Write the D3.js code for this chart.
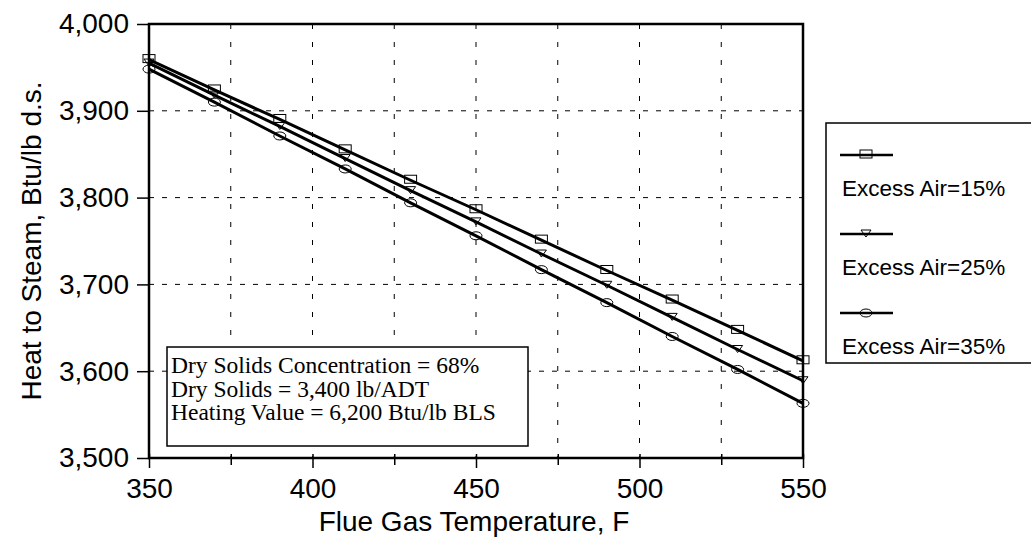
<!DOCTYPE html>
<html>
<head>
<meta charset="utf-8">
<script src="https://cdn.jsdelivr.net/npm/d3@7"></script>
<style>
  html, body { margin: 0; padding: 0; background: #fff; }
  svg { display: block; }
</style>
</head>
<body>
<svg id="chart" width="1031" height="544"></svg>
<script>
// ---- Data ----
const temperatures = [350, 370, 390, 410, 430, 450, 470, 490, 510, 530, 550];
const excessAir15 = [3959, 3924, 3890, 3855, 3820, 3786, 3751, 3716, 3682, 3647, 3612];
const excessAir25 = [3955, 3918, 3882, 3845, 3808, 3772, 3735, 3699, 3662, 3625, 3589];
const excessAir35 = [3948, 3910, 3871, 3833, 3794, 3756, 3717, 3679, 3640, 3602, 3563];
const seriesNames = ["Excess Air=15%", "Excess Air=25%", "Excess Air=35%"];
const markerTypes = ["square", "triangle", "circle"];
const xTickLabels = [350, 400, 450, 500, 550];
const xGridValues = [375, 400, 425, 450, 475, 500, 525];
const yTickLabels = [3500, 3600, 3700, 3800, 3900, 4000];
const noteLines = [
  "Dry Solids Concentration = 68%",
  "Dry Solids = 3,400 lb/ADT",
  "Heating Value = 6,200 Btu/lb BLS"
];
const xTitle = "Flue Gas Temperature, F";
const yTitle = "Heat to Steam, Btu/lb d.s.";

const seriesValues = [excessAir15, excessAir25, excessAir35];
const series = seriesNames.map((name, i) => ({
  name, marker: markerTypes[i],
  points: temperatures.map((t, j) => ({ x: t, y: seriesValues[i][j] }))
}));

// ---- Layout ----
const svg = d3.select("#chart");
const plot = { left: 149, top: 24, right: 803, bottom: 458 };
const sans = "'Liberation Sans', Arial, sans-serif";
const serif = "'Liberation Serif', 'Times New Roman', serif";
const axisFont = 28;

const x = d3.scaleLinear().domain([350, 550]).range([plot.left, plot.right]);
const y = d3.scaleLinear().domain([3500, 4000]).range([plot.bottom, plot.top]);

// gridlines
const grid = svg.append("g");
grid.selectAll("line.h").data(yTickLabels.filter(v => v > 3500 && v < 4000)).join("line")
  .attr("x1", plot.left).attr("x2", plot.right)
  .attr("y1", d => y(d)).attr("y2", d => y(d))
  .attr("stroke", "#000").attr("stroke-width", 1).attr("stroke-dasharray", "5,8");
grid.selectAll("line.v").data(xGridValues).join("line")
  .attr("y1", plot.top).attr("y2", plot.bottom)
  .attr("x1", d => x(d)).attr("x2", d => x(d))
  .attr("stroke", "#000").attr("stroke-width", 1).attr("stroke-dasharray", "5,13");

// y axis
const yAxis = d3.axisLeft(y).tickValues(yTickLabels).tickSize(12).tickPadding(8)
  .tickFormat(d3.format(","));
const gy = svg.append("g").attr("transform", `translate(${plot.left},0)`).call(yAxis);
gy.select(".domain").remove();
gy.selectAll(".tick line").attr("stroke", "#000").attr("stroke-width", 1.5);
gy.selectAll(".tick text").attr("font-family", sans).attr("font-size", axisFont).attr("fill", "#000");

// x axis: ticks every 25, labels every 50
const xAxis = d3.axisBottom(x).tickValues([350, 375, 400, 425, 450, 475, 500, 525, 550])
  .tickSize(8).tickPadding(12)
  .tickFormat(d => xTickLabels.includes(d) ? d : "");
const gx = svg.append("g").attr("transform", `translate(0,${plot.bottom})`).call(xAxis);
gx.select(".domain").remove();
gx.selectAll(".tick line").attr("stroke", "#000").attr("stroke-width", 1.5)
  .attr("y1", -4).attr("y2", d => xTickLabels.includes(d) ? 10 : 7);
gx.selectAll(".tick text").attr("font-family", sans).attr("font-size", axisFont).attr("fill", "#000");

// frame
svg.append("rect").attr("x", plot.left).attr("y", plot.top)
  .attr("width", plot.right - plot.left).attr("height", plot.bottom - plot.top)
  .attr("fill", "none").attr("stroke", "#000").attr("stroke-width", 2.5);

// axis titles
svg.append("text").attr("x", (plot.left + plot.right) / 2 - 2).attr("y", 531)
  .attr("text-anchor", "middle").attr("font-family", sans).attr("font-size", axisFont)
  .text(xTitle);
svg.append("text").attr("transform", `translate(41,${(plot.top + plot.bottom) / 2}) rotate(-90)`)
  .attr("text-anchor", "middle").attr("font-family", sans).attr("font-size", axisFont)
  .text(yTitle);

// marker drawing
function drawMarker(sel, type) {
  if (type === "square") {
    sel.append("rect").attr("x", -6).attr("y", -5).attr("width", 12).attr("height", 8);
  } else if (type === "triangle") {
    sel.append("path").attr("d", "M-5,-4 L5,-4 L0,3 Z");
  } else {
    sel.append("ellipse").attr("cx", 0).attr("cy", 0).attr("rx", 6).attr("ry", 4);
  }
  sel.selectAll("*").attr("fill", "none").attr("stroke", "#000").attr("stroke-width", 1);
}

// lines + markers
const line = d3.line().x(d => x(d.x)).y(d => y(d.y));
series.forEach(s => {
  svg.append("path").datum(s.points).attr("d", line)
    .attr("fill", "none").attr("stroke", "#000").attr("stroke-width", 3);
  svg.append("g").selectAll("g").data(s.points).join("g")
    .attr("transform", d => `translate(${x(d.x)},${y(d.y)})`)
    .each(function () { drawMarker(d3.select(this), s.marker); });
});

// note box
const note = svg.append("g");
note.append("rect").attr("x", 167).attr("y", 347).attr("width", 361).attr("height", 99)
  .attr("fill", "#fff").attr("stroke", "#000").attr("stroke-width", 1.5);
note.selectAll("text").data(noteLines).join("text")
  .attr("x", 171).attr("y", (d, i) => 373 + i * 23.5)
  .attr("font-family", serif).attr("font-size", 23.5).attr("fill", "#000")
  .text(d => d);

// legend
const leg = svg.append("g");
leg.append("rect").attr("x", 826).attr("y", 123).attr("width", 220).attr("height", 240)
  .attr("fill", "#fff").attr("stroke", "#000").attr("stroke-width", 1.5);
series.forEach((s, i) => {
  const ly = 155 + i * 79;
  leg.append("line").attr("x1", 840).attr("x2", 893).attr("y1", ly).attr("y2", ly)
    .attr("stroke", "#000").attr("stroke-width", 2.5);
  const m = leg.append("g").attr("transform", `translate(866,${ly})`);
  drawMarker(m, s.marker);
  leg.append("text").attr("x", 842).attr("y", ly + 41)
    .attr("font-family", sans).attr("font-size", 22.5).text(s.name);
});
</script>
</body>
</html>
